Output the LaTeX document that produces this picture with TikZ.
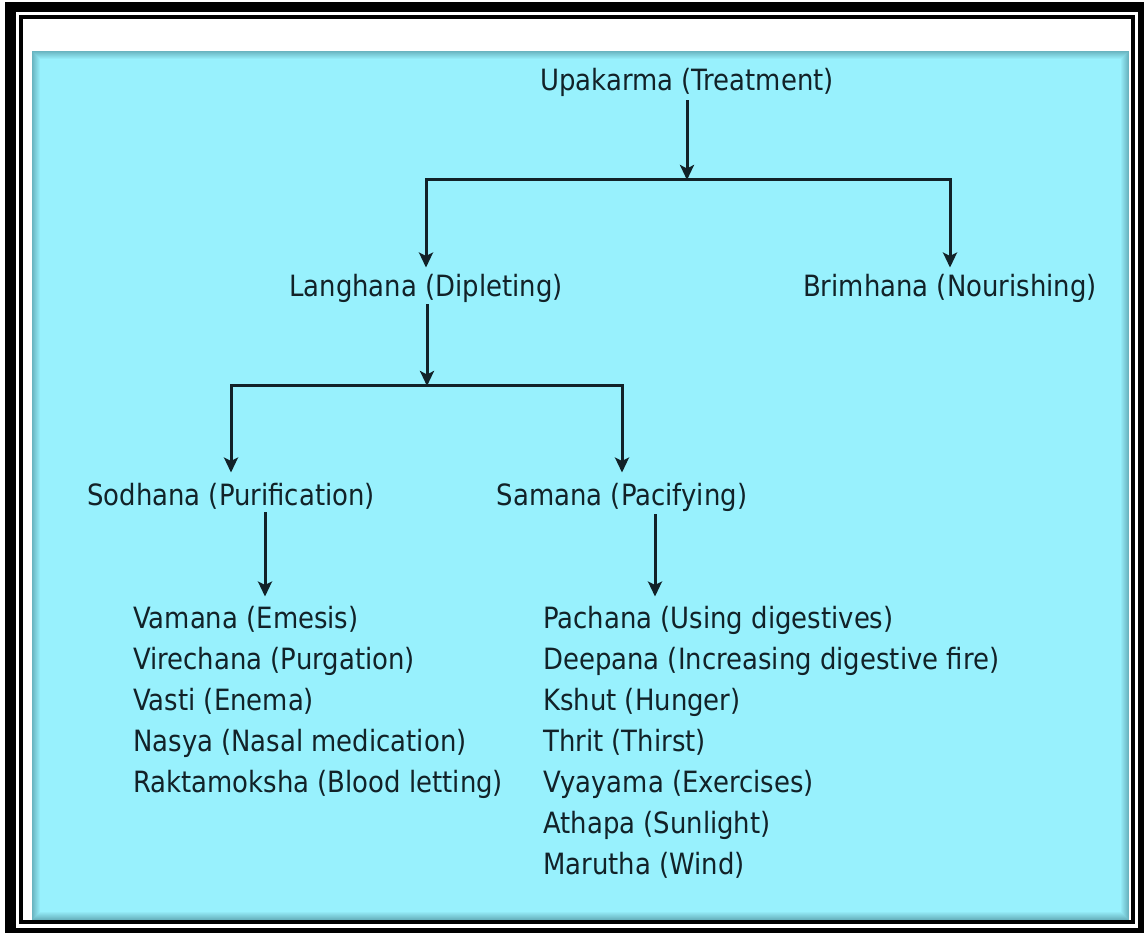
\documentclass[tikz,border=0pt]{standalone}
\usepackage{fontspec}
\setmainfont{DejaVu Sans}[FakeStretch=0.885]
\usetikzlibrary{arrows.meta}
\definecolor{bg}{RGB}{152,241,253}
\definecolor{ink}{RGB}{18,34,40}
\definecolor{edgeshadow}{RGB}{60,120,132}
\begin{document}
\begin{tikzpicture}[x=1pt,y=-1pt,
  lbl/.style={inner sep=0pt, text=ink, font=\fontsize{29.3}{35}\selectfont},
  conn/.style={draw=ink, line width=3pt},
  arr/.style={conn, -{Stealth[length=15pt,width=14pt,inset=3.5pt]}}]
\useasboundingbox (0,0) rectangle (1144,933);
\fill[white] (0,0) rectangle (1144,933);
% frame
\fill[black] (5,2) rectangle (1144,933);
\fill[white] (16,12) rectangle (1138,928);
\fill[black] (19,15) rectangle (1135,924);
\fill[white] (23,19) rectangle (1131,920);
% cyan panel with inner shadow
\fill[bg] (32,51) rectangle (1129,920);
\foreach \i [evaluate=\i as \op using 0.5*(1-\i/8)] in {0,...,7}
  \draw[draw=edgeshadow, draw opacity=\op, line width=1.1pt] ({32.5+\i},{51.5+\i}) rectangle ({1128.5-\i},{919.5-\i});
% nodes
\node[lbl, anchor=base] (upa) at (687,91) {Upakarma (Treatment)};
\node[lbl, anchor=base] (lang) at (426,297) {Langhana (Dipleting)};
\node[lbl, anchor=base] (brim) at (950,297) {Brimhana (Nourishing)};
\node[lbl, anchor=base] (sod) at (231,505) {Sodhana (Purification)};
\node[lbl, anchor=base] (sam) at (622,505) {Samana (Pacifying)};
% lists
\node[lbl, anchor=base west] (s1) at (133,628) {Vamana (Emesis)};
\node[lbl, anchor=base west] (s2) at (133,669) {Virechana (Purgation)};
\node[lbl, anchor=base west] (s3) at (133,710) {Vasti (Enema)};
\node[lbl, anchor=base west] (s4) at (133,751) {Nasya (Nasal medication)};
\node[lbl, anchor=base west] (s5) at (133,792) {Raktamoksha (Blood letting)};
\node[lbl, anchor=base west] (p1) at (543,628) {Pachana (Using digestives)};
\node[lbl, anchor=base west] (p2) at (543,669) {Deepana (Increasing digestive fire)};
\node[lbl, anchor=base west] (p3) at (543,710) {Kshut (Hunger)};
\node[lbl, anchor=base west] (p4) at (543,751) {Thrit (Thirst)};
\node[lbl, anchor=base west] (p5) at (543,792) {Vyayama (Exercises)};
\node[lbl, anchor=base west] (p6) at (543,833) {Athapa (Sunlight)};
\node[lbl, anchor=base west] (p7) at (543,874) {Marutha (Wind)};
% junctions
\coordinate (j1) at (687,180);
\coordinate (j2) at (427,386);
% connectors
\draw[arr] ([yshift=-3pt]upa.south) -- (j1);
\draw[arr, shorten >=7pt] (j1) -| (lang.north);
\draw[arr, shorten >=7pt] (j1) -| (brim.north);
\draw[arr] ([xshift=1pt,yshift=-1pt]lang.south) -- (j2);
\draw[arr, shorten >=10pt] (j2) -| (sod.north);
\draw[arr, shorten >=10pt] (j2) -| (sam.north);
\draw[arr, shorten >=9pt] ([xshift=34pt,yshift=-3pt]sod.south) -- ([xshift=34pt]sod.south |- s1.north);
\draw[arr, shorten >=9pt] ([xshift=33pt,yshift=-3pt]sam.south) -- ([xshift=33pt]sam.south |- p1.north);
\end{tikzpicture}
\end{document}
